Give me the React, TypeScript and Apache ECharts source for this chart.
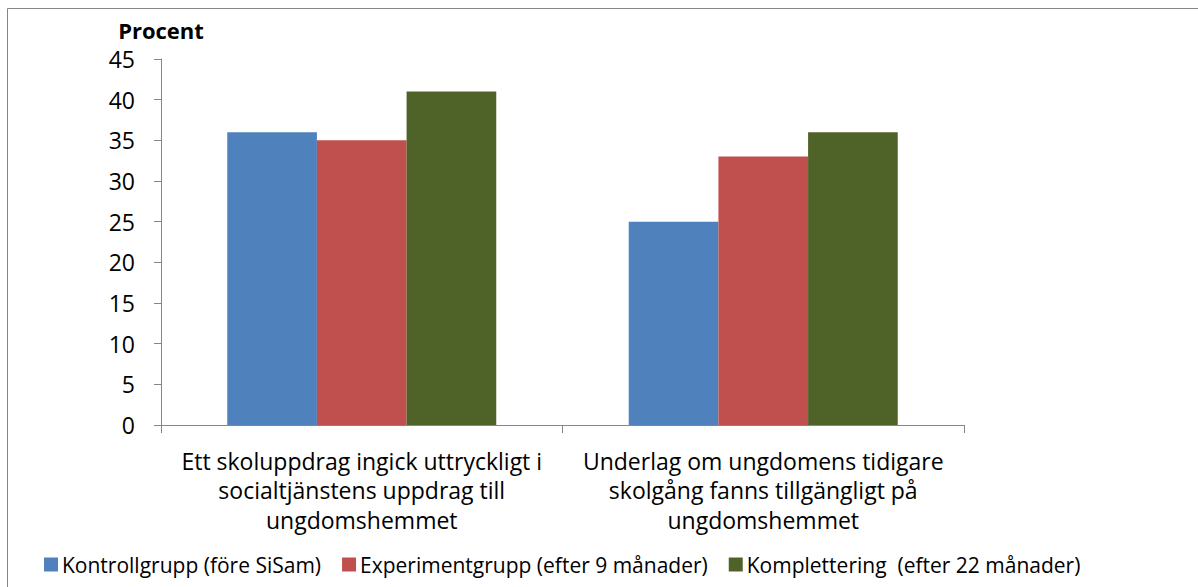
import React, { useEffect, useRef } from "react";
import * as echarts from "echarts";

const categories = [
  "Ett skoluppdrag ingick uttryckligt i\nsocialtjänstens uppdrag till\nungdomshemmet",
  "Underlag om ungdomens tidigare\nskolgång fanns tillgängligt på\nungdomshemmet",
];
const seriesNames = [
  "Kontrollgrupp (före SiSam)",
  "Experimentgrupp (efter 9 månader)",
  "Komplettering  (efter 22 månader)",
];
const kontroll = [36, 25];
const experiment = [35, 33];
const komplettering = [41, 36];
const colors = ["#4F81BD", "#C0504D", "#4F6228"];

const FONT = "'Open Sans', 'Noto Sans', sans-serif";

export default function App() {
  const ref = useRef<HTMLDivElement>(null);
  useEffect(() => {
    if (!ref.current) return;
    const chart = echarts.init(ref.current, null, { renderer: "svg" });
    const values = [kontroll, experiment, komplettering];
    chart.setOption({
      animation: false,
      backgroundColor: "#ffffff",
      textStyle: { fontFamily: FONT },
      graphic: [
        { type: "line", shape: { x1: 7.5, y1: 8.5, x2: 1198, y2: 8.5 }, style: { stroke: "#868686", lineWidth: 1 } },
        { type: "line", shape: { x1: 7.5, y1: 8.5, x2: 7.5, y2: 587 }, style: { stroke: "#868686", lineWidth: 1 } },
      ],
      grid: { left: 161, top: 59, right: 234, bottom: 162, containLabel: false },
      legend: {
        left: 39,
        top: 549,
        icon: "rect",
        itemWidth: 14,
        itemHeight: 14,
        itemGap: 21,
        textStyle: { fontSize: 21, color: "#000", fontFamily: FONT, padding: [0, 0, 0, -1] },
        data: seriesNames,
      },
      xAxis: {
        type: "category",
        data: categories,
        axisLine: { lineStyle: { color: "#868686", width: 1 } },
        axisTick: { show: true, length: 8, lineStyle: { color: "#868686" } },
        axisLabel: {
          fontSize: 23,
          color: "#000",
          lineHeight: 29.5,
          margin: 21,
          interval: 0,
          align: "center",
          fontFamily: FONT,
        },
      },
      yAxis: {
        type: "value",
        min: 0,
        max: 45,
        interval: 5,
        name: "Procent",
        nameLocation: "end",
        nameGap: 29,
        nameTextStyle: {
          fontSize: 22,
          fontWeight: "bold",
          color: "#000",
          align: "center",
          verticalAlign: "middle",
          fontFamily: FONT,
        },
        splitLine: { show: false },
        axisLine: { show: true, lineStyle: { color: "#868686", width: 1 } },
        axisTick: { show: true, length: 7, lineStyle: { color: "#868686" } },
        axisLabel: { fontSize: 23, color: "#000", margin: 26, fontFamily: FONT },
      },
      series: seriesNames.map((name, i) => ({
        name,
        type: "bar",
        data: values[i],
        barGap: "0%",
        barCategoryGap: "33%",
        itemStyle: { color: colors[i] },
      })),
    });
    return () => chart.dispose();
  }, []);
  return (
    <div
      ref={ref}
      style={{ position: "fixed", left: 0, top: 0, width: 1198, height: 587 }}
    />
  );
}
